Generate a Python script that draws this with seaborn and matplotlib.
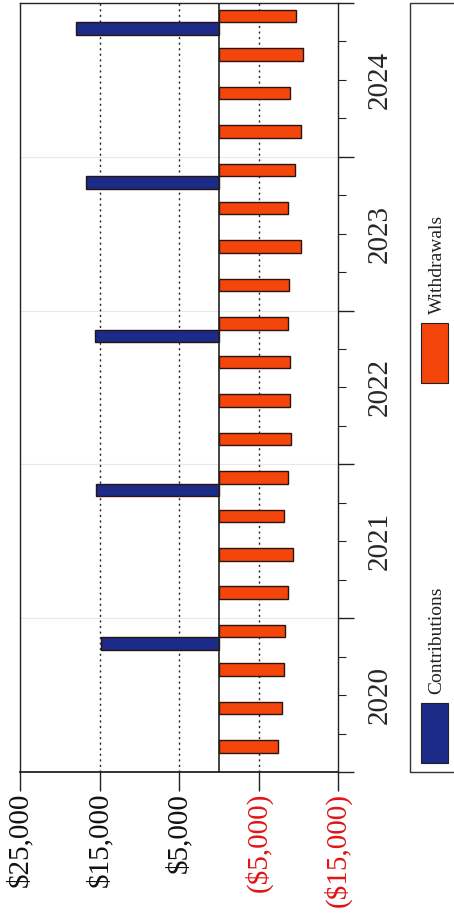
import numpy as np
import pandas as pd
import matplotlib
matplotlib.use('Agg')
import matplotlib.pyplot as plt
import seaborn as sns
from matplotlib.patches import Rectangle

# quarterly cash flows
years = [2020, 2021, 2022, 2023, 2024]
quarters = ['Q1', 'Q2', 'Q3', 'Q4']
series_names = ['Contributions', 'Withdrawals']

# contributions only land in Q4 of each year
contributions = [14750, 15400, 15600, 16700, 17900]
withdrawals = [
    7400, 7900, 8150, 8300,
    8700, 9350, 8250, 8750,
    9100, 8950, 8900, 8650,
    8850, 10400, 8700, 9600,
    10300, 8900, 10650, 9700,
]

value_ticks = [25000, 15000, 5000, -5000, -15000]
value_labels = ['$25,000', '$15,000', '$5,000', '($5,000)', '($15,000)']

blue = '#1c2a88'
orange = '#f4460a'


def build_frame():
    periods = [f'{y} {q}' for y in years for q in quarters]
    rows = []
    for i, p in enumerate(periods):
        if i % 4 == 3:
            rows.append((p, 'Contributions', contributions[i // 4]))
        rows.append((p, 'Withdrawals', -withdrawals[i]))
    return periods, pd.DataFrame(rows, columns=['period', 'series', 'amount'])


periods, df = build_frame()

sns.set_theme(style='white')
plt.rcParams['font.family'] = ['Liberation Serif', 'DejaVu Serif']

fig = plt.figure(figsize=(4.54, 9.14), dpi=100)
ax = fig.add_axes([20 / 454, 1 - 772 / 914, 318 / 454, 769 / 914])

sns.barplot(data=df, x='amount', y='period', hue='series', order=periods,
            hue_order=series_names, palette=[blue, orange], saturation=1,
            orient='h', width=0.65, dodge=True, errorbar=None, legend=False,
            edgecolor='#2a1410', linewidth=1.0, ax=ax, zorder=3)

ax.set_ylim(-0.5, len(periods) - 0.5)
ax.set_xlim(25000, -15000)
ax.set_xlabel('')
ax.set_ylabel('')

# dotted value grid + zero line
for v in value_ticks[1:-1]:
    ax.axvline(v, color='#222222', lw=1.0, ls=(0, (1.5, 2.5)), zorder=1)
ax.axvline(0, color='#222222', lw=1.2, zorder=4)

# faint lines between years
year_bounds = np.arange(-0.5, len(periods), 4)
for b in year_bounds[1:-1]:
    ax.axhline(b, color='#e8e8e8', lw=0.8, zorder=0)

# value axis (bottom, rotated labels)
ax.set_xticks(value_ticks)
ax.set_xticklabels(value_labels, rotation=90)
for lab, v in zip(ax.get_xticklabels(), value_ticks):
    lab.set_color('#e01515' if v < 0 else '#111111')
ax.tick_params(axis='x', bottom=True, direction='out', length=14, width=1,
               color='#222222', pad=1, labelsize=21)

# category axis on the right: year ticks long, quarter ticks short
ax.yaxis.tick_right()
ax.set_yticks(year_bounds)
ax.set_yticklabels([])
ax.set_yticks(np.arange(-0.5, len(periods), 1), minor=True)
ax.tick_params(axis='y', which='major', right=True, left=False, direction='out',
               length=11.5, width=1, color='#222222')
ax.tick_params(axis='y', which='minor', right=True, left=False, direction='out',
               length=5.8, width=0.8, color='#222222')

secax = ax.secondary_yaxis('right')
secax.set_yticks(np.arange(1.5, len(periods), 4))
secax.set_yticklabels([str(y) for y in years], rotation=90, va='center')
secax.tick_params(length=0, pad=21, labelsize=21)
secax.spines['right'].set_visible(False)

for side in ['left', 'top', 'right', 'bottom']:
    ax.spines[side].set_visible(True)
    ax.spines[side].set_color('#222222')
    ax.spines[side].set_linewidth(1.0)
ax.spines['bottom'].set_linewidth(1.3)

# legend drawn by hand since it is rotated with the chart
fig.add_artist(Rectangle((410 / 454, 1 - 772 / 914), 0.2, 769 / 914,
                         transform=fig.transFigure, fill=False,
                         edgecolor='#333333', lw=1.0))
fig.add_artist(Rectangle((421 / 454, 1 - 763 / 914), 27 / 454, 60 / 914,
                         transform=fig.transFigure, facecolor=blue,
                         edgecolor='#222222', lw=0.8))
fig.add_artist(Rectangle((421 / 454, 1 - 383 / 914), 27 / 454, 60 / 914,
                         transform=fig.transFigure, facecolor=orange,
                         edgecolor='#222222', lw=0.8))
fig.text(437 / 454, 1 - 694 / 914, 'Contributions', rotation=90,
         ha='center', va='bottom', fontsize=14, color='#222222')
fig.text(437 / 454, 1 - 314 / 914, 'Withdrawals', rotation=90,
         ha='center', va='bottom', fontsize=14, color='#222222')

fig.savefig('out.png', dpi=100, facecolor='white')
